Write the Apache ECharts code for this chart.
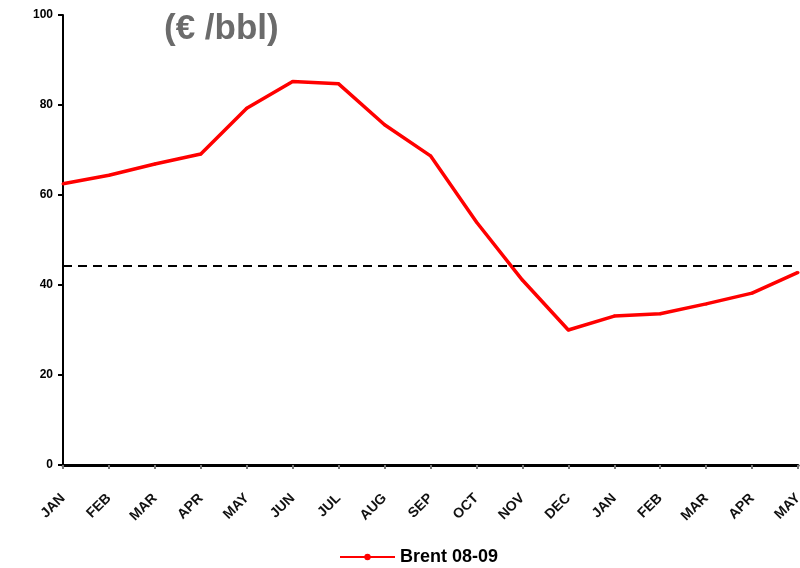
<!DOCTYPE html>
<html>
<head>
<meta charset="utf-8">
<script src="https://cdn.jsdelivr.net/npm/echarts@6/dist/echarts.min.js"></script>
<style>
  html, body { margin: 0; padding: 0; background: #fff; }
  #chart { width: 800px; height: 568px; }
</style>
</head>
<body>
<div id="chart"></div>
<script>
// Brent crude monthly average, EUR per barrel, Jan 2008 - May 2009
const months = ['JAN', 'FEB', 'MAR', 'APR', 'MAY', 'JUN', 'JUL', 'AUG', 'SEP', 'OCT', 'NOV', 'DEC',
                'JAN', 'FEB', 'MAR', 'APR', 'MAY'];
const brent = [62.5, 64.4, 66.9, 69.1, 79.3, 85.2, 84.7, 75.6, 68.7, 54.0, 41.1, 30.0,
               33.1, 33.6, 35.8, 38.2, 42.8];
const referenceLevel = 44.2;
const yTicks = [0, 20, 40, 60, 80, 100];

const chart = echarts.init(document.getElementById('chart'), null, { renderer: 'canvas' });

chart.setOption({
  animation: false,
  backgroundColor: '#ffffff',
  title: {
    text: '(€ /bbl)',
    left: 159,
    top: 7,
    textStyle: { fontFamily: 'Liberation Sans, Arial', fontSize: 35, fontWeight: 'bold', color: '#6b6b6b' }
  },
  grid: { left: 63, right: 2, top: 15, bottom: 103, containLabel: false, outerBoundsMode: 'none' },
  legend: {
    top: 548,
    left: 339,
    padding: 0,
    itemWidth: 55,
    itemHeight: 8,
    itemGap: 6,
    textStyle: { fontFamily: 'Liberation Sans, Arial', fontSize: 18, fontWeight: 'bold', color: '#000' },
    data: ['Brent 08-09']
  },
  xAxis: {
    type: 'category',
    data: months,
    boundaryGap: false,
    axisLine: { lineStyle: { color: '#000', width: 3 } },
    axisTick: { show: true, inside: false, length: 4, alignWithLabel: true, lineStyle: { color: '#777', width: 2 } },
    axisLabel: {
      rotate: 45,
      margin: 31,
      interval: 0,
      hideOverlap: false,
      fontFamily: 'Liberation Sans, Arial',
      fontSize: 14,
      fontWeight: 'bold',
      color: '#111'
    },
    splitLine: { show: false }
  },
  yAxis: {
    type: 'value',
    min: yTicks[0],
    max: yTicks[yTicks.length - 1],
    interval: yTicks[1] - yTicks[0],
    axisLine: { show: true, lineStyle: { color: '#000', width: 2 } },
    axisTick: { show: true, length: 5, lineStyle: { color: '#000', width: 2 } },
    axisLabel: {
      margin: 10,
      fontFamily: 'Liberation Sans, Arial',
      fontSize: 12,
      fontWeight: 'bold',
      color: '#000'
    },
    splitLine: { show: false }
  },
  series: [{
    name: 'Brent 08-09',
    type: 'line',
    data: brent,
    symbol: 'circle',
    symbolSize: 3,
    showSymbol: true,
    lineStyle: { color: '#ff0000', width: 3.5 },
    itemStyle: { color: '#ff0000' },
    z: 3,
    markLine: {
      silent: true,
      symbol: ['none', 'none'],
      label: { show: false },
      lineStyle: { color: '#000', type: [9, 6], width: 2 },
      data: [{ yAxis: referenceLevel }]
    }
  }]
});
</script>
</body>
</html>
